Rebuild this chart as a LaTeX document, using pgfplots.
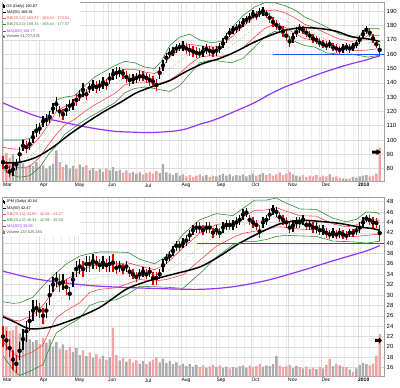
\documentclass[border=0pt]{standalone}
\usepackage{fontspec}
\setmainfont{Liberation Sans}
\usepackage{pgfplots}
\usepackage{pgfplotstable}
\pgfplotsset{compat=1.18}
\definecolor{bbred}{RGB}{250,70,70}
\definecolor{bbgreen}{RGB}{50,140,50}
\definecolor{mapurple}{RGB}{150,50,250}
\definecolor{supblue}{RGB}{30,80,255}
\definecolor{volpink}{RGB}{240,165,165}
\definecolor{volgray}{RGB}{172,172,172}
\definecolor{candred}{RGB}{225,0,0}
\definecolor{gridc}{RGB}{220,220,220}
\definecolor{gridm}{RGB}{236,236,236}
\definecolor{framec}{RGB}{160,160,160}
\definecolor{middot}{RGB}{150,130,85}

\pgfplotsset{
  basepanel/.style={scale only axis, width=382bp, xmin=-0.6, xmax=228.6, anchor=south west},
  panelT/.style={basepanel, at={(2bp,206.5bp)}, height=179.5bp},
  panelB/.style={basepanel, at={(2bp,11.5bp)}, height=179bp},
  gridaxis/.style={
    xtick={0,22,43,63,85,107,128,149,171,191,213},
    xticklabels={Mar,Apr,May,Jun,Jul,Aug,Sep,Oct,Nov,Dec,\textbf{2010}},
    minor xtick={5,10,...,225},
    yticklabel pos=right,
    xmajorgrids, ymajorgrids, xminorgrids,
    major grid style={draw=gridc, line width=0.5bp},
    minor grid style={draw=gridm, line width=0.5bp},
    major tick length=0pt, minor tick length=0pt,
    axis line style={draw=framec, line width=0.6bp},
    /pgf/number format/assume math mode=true,
    yticklabel style={font=\fontsize{6}{7}\selectfont, anchor=west, inner sep=0pt, xshift=2.5bp},
    xticklabel style={font=\fontsize{5}{6}\selectfont, anchor=north west, inner sep=0pt, yshift=-1.8bp},
  },
  volbar/.style={ybar, bar width=1.4, bar shift=0pt, draw=none},
}

% GS: x = trading day (0 = 2 Mar 2009), lo, hi, volume (millions), d = 1 down day
\pgfplotstableread[row sep=\\]{
x lo hi v d\\
0 80 89 40 1\\ 2 77 85 44 1\\ 4 74 82 36 1\\ 6 75 84 42 0\\ 8 79 87 30 0\\
10 85 95 34 0\\ 12 92 100 28 0\\ 14 91 99 22 1\\ 16 93 101 26 0\\ 18 98 106 24 0\\
20 102 111 30 0\\ 22 104 112 22 0\\ 24 109 117 25 0\\ 26 110 118 20 0\\ 28 112 120 24 0\\
30 118 126 27 0\\ 32 120 130 48 0\\ 34 116 124 30 1\\ 36 114 122 22 1\\ 38 117 125 26 0\\
40 120 128 20 0\\ 42 121 129 24 0\\ 44 124 132 19 1\\ 46 127 135 26 0\\ 48 130 140 22 0\\
50 128 136 25 1\\ 52 133 140 18 0\\ 54 134 142 21 0\\ 56 133 141 16 1\\ 58 134 142 19 0\\
60 136 144 15 0\\ 62 135 143 20 1\\ 64 139 147 17 0\\ 66 142 150 22 0\\ 68 143 151 16 0\\
70 144 151 18 0\\ 72 143 150 14 1\\ 74 140 148 17 1\\ 76 138 146 13 1\\ 78 139 146 15 0\\
80 140 147 12 0\\ 82 141 148 14 0\\ 84 141 148 11 1\\ 86 140 147 13 1\\ 88 138 146 15 1\\
90 137 145 12 1\\ 92 134 143 16 1\\ 94 143 151 13 0\\ 96 148 156 27 0\\ 98 154 161 14 0\\
100 157 164 12 0\\ 102 159 165 10 0\\ 104 161 167 13 0\\ 106 162 168 9 0\\ 108 162 169 11 0\\
110 160 168 8 1\\ 112 159 167 10 1\\ 114 158 166 7 1\\ 116 157 165 9 1\\ 118 157 164 11 1\\
120 158 166 8 0\\ 122 160 167 10 0\\ 124 159 166 7 1\\ 126 158 165 9 1\\ 128 159 166 8 0\\
130 161 168 10 0\\ 132 164 171 12 0\\ 134 168 175 9 0\\ 136 172 178 11 0\\ 138 174 180 8 0\\
140 175 181 10 0\\ 142 176 183 9 0\\ 144 179 185 11 0\\ 146 181 187 8 0\\ 148 182 189 10 0\\
150 185 191 12 0\\ 152 184 190 9 1\\ 154 186 192 11 0\\ 156 187 193 13 0\\ 158 185 191 10 1\\
160 182 189 12 1\\ 162 179 186 9 1\\ 164 177 184 11 1\\ 166 175 182 14 1\\ 168 172 180 10 1\\
170 169 177 12 1\\ 172 165 173 15 1\\ 174 168 175 11 0\\ 176 172 179 9 0\\ 178 175 181 8 0\\
180 174 180 10 1\\ 182 172 178 7 1\\ 184 170 176 9 1\\ 186 168 174 8 1\\ 188 167 173 10 1\\
190 165 171 7 1\\ 192 164 170 9 1\\ 194 163 169 8 1\\ 196 164 170 11 0\\ 198 162 168 7 1\\
200 161 167 8 1\\ 202 160 166 6 1\\ 204 161 167 5 0\\ 206 162 168 4 0\\ 208 161 167 5 1\\
210 162 168 7 0\\ 212 164 170 6 0\\ 214 167 173 8 0\\ 216 171 177 9 0\\ 218 174 180 10 0\\
220 172 178 8 1\\ 222 168 174 9 1\\ 224 164 170 12 1\\ 226 159 167 51.7 1\\
}\GSdata

\pgfplotstableread[row sep=\\]{
x l2 l1 m u1 u2\\
0 80 85 90 95 100\\ 4 76 82 88 94 100\\ 10 74 80.5 87 93.5 100\\ 16 75 81.5 88 94.5 101\\
22 81 88 95 102 109\\ 28 91 98 105 112 119\\ 32 96 104 112 120 128\\ 37 104 110.5 117 123.5 130\\
43 109 114.5 120 125.5 131\\ 49 114 120 126 132 138\\ 55 118 124.5 131 137.5 144\\ 61 122 128.5 135 141.5 148\\
67 126 132.5 139 145.5 152\\ 73 133 138.5 144 149.5 155\\ 79 136 140.5 145 149.5 154\\ 85 137 140.5 144 147.5 151\\
91 136 139.5 143 146.5 150\\ 95 135 140 145 150 155\\ 100 134 142 150 158 166\\ 106 138 146.5 155 163.5 172\\
112 146 153 160 167 174\\ 118 154 158 162 166 170\\ 125 156 159 162 165 168\\ 131 155 158.5 162 165.5 169\\
137 154 160 166 172 178\\ 144 157 164.5 172 179.5 187\\ 151 165 172 179 186 193\\ 157 172 178 184 190 196\\
163 176 181 186 191 196\\ 169 174 179 184 189 194\\ 175 169 174.5 180 185.5 191\\ 181 166 171 176 181 186\\
187 165 169.5 174 178.5 183\\ 194 161 165.5 170 174.5 179\\ 202 160 163.5 167 170.5 174\\ 209 160 163 166 169 172\\
214 159 162.5 166 169.5 173\\ 219 158 163 168 173 178\\ 224 158.9 163.7 168.5 173.3 178.1\\ 226 159.31 163.87 168.44 173.01 177.57\\
}\GSbb

\pgfplotstableread[row sep=\\]{
x y\\
0 84\\ 10 84.5\\ 20 88\\ 30 95\\ 40 104\\ 50 112\\ 60 119.5\\ 70 126\\ 80 133\\ 90 137.5\\ 100 141.5\\ 110 148\\
120 153.5\\ 130 157\\ 140 162\\ 150 168\\ 160 173\\ 170 177\\ 180 178.5\\ 190 178\\ 200 176\\ 210 172\\ 220 170.5\\ 226 168.91\\
}\GSmaf

\pgfplotstableread[row sep=\\]{
x y\\
0 126\\ 10 121\\ 22 116\\ 30 114\\ 38 112\\ 48 109.5\\ 58 107.5\\ 68 106\\ 78 105.5\\ 86 105.2\\ 94 105.5\\ 102 106.2\\
109 107.5\\ 118 111\\ 124 113\\ 130 115.5\\ 139 120\\ 148 124.5\\ 154 128\\ 160 132\\ 169 137\\ 178 141\\ 188 145.5\\
198 149.5\\ 208 153\\ 218 156\\ 222 157.5\\ 226 158.77\\
}\GSmat

% JPM
\pgfplotstableread[row sep=\\]{
x lo hi v d\\
0 20 24 155 1\\ 2 19.5 23 162 1\\ 4 18 21.5 148 1\\ 6 15.6 19.5 150 1\\ 8 15 18.5 165 1\\
10 17.5 21 140 0\\ 12 19.5 23.5 128 0\\ 14 21 25 135 0\\ 16 23 27 120 0\\ 18 25 29 112 0\\
20 26 29 118 0\\ 22 25.5 28.5 105 1\\ 24 24.5 27.5 125 1\\ 26 25.5 28.5 110 0\\ 28 28 32 120 0\\
30 30.5 33.5 98 0\\ 32 31.5 34.5 112 0\\ 34 30.5 34 90 1\\ 36 31 34 104 0\\ 38 30 33 86 1\\
40 29 31.5 96 1\\ 42 31.5 34.5 80 0\\ 44 33.5 36.5 92 0\\ 46 34 37 70 0\\ 48 33.5 36.5 85 1\\
50 34.5 37.5 66 0\\ 52 34.5 37.5 78 1\\ 54 35 38 60 0\\ 56 35 37.5 72 1\\ 58 34.5 37 58 1\\
60 35 37.5 68 0\\ 62 34.5 37 55 1\\ 64 34.5 37.5 62 0\\ 66 34.5 38 158 1\\ 68 34 36.5 70 1\\
70 34.5 36.5 52 0\\ 72 34 36 60 1\\ 74 34.5 36.5 48 0\\ 76 33.5 35.5 56 1\\ 78 33 35 45 1\\
80 32.5 34.5 52 1\\ 82 33 35 42 0\\ 84 33.5 35.5 50 0\\ 86 33 35 40 1\\ 88 33.5 35.5 48 0\\
90 32 34.5 55 1\\ 92 32 34.5 62 1\\ 94 33 35 46 0\\ 96 34.5 37 58 0\\ 98 36 38 44 0\\
100 36.5 38.5 50 0\\ 102 37.5 39.5 40 0\\ 104 38.5 40.5 46 0\\ 106 38.5 40.5 36 1\\ 108 39 41 42 0\\
110 39.5 41.5 34 0\\ 112 40.5 42.5 40 0\\ 114 41.5 43.5 32 0\\ 116 42 44 38 0\\ 118 42 44 30 1\\
120 41.5 43.5 36 1\\ 122 42 44 28 0\\ 124 42 44 33 1\\ 126 41 43 38 1\\ 128 41.5 43.5 30 0\\
130 41 43 36 1\\ 132 42 44 28 0\\ 134 42.5 44.5 32 0\\ 136 42.5 44.5 26 1\\ 138 42.5 44.5 30 0\\
140 43 45 27 0\\ 142 43.5 45.5 33 0\\ 144 44.5 46.5 36 0\\ 146 45 46.8 28 0\\ 148 43.5 45.5 35 1\\
150 43 45 30 1\\ 152 42.5 44.5 34 1\\ 154 41 43.5 40 1\\ 156 43 45 32 0\\ 158 43.5 45.5 36 0\\
160 44.5 46.5 34 0\\ 162 45.5 47.4 40 0\\ 164 45 47 66 0\\ 166 44 46 35 1\\ 168 43.5 45.5 30 1\\
170 43 45 33 1\\ 172 42 44 38 1\\ 174 42.2 44.5 28 0\\ 176 43 45 34 0\\ 178 43 45 30 1\\
180 43.5 45.5 26 0\\ 182 42.5 44.5 32 1\\ 184 42.5 44.5 25 0\\ 186 42 44 29 1\\ 188 42 44 24 0\\
190 41.5 43.5 31 1\\ 192 41.5 43.5 26 0\\ 194 41 43 38 1\\ 196 40.8 42.5 56 1\\ 198 41 43 34 0\\
200 40.8 42.5 40 1\\ 202 41 43 36 0\\ 204 40.8 42.5 32 1\\ 206 40.6 42.3 30 1\\ 208 41.2 42.8 22 0\\
210 41.2 42.8 15 1\\ 212 41.6 43.3 26 0\\ 214 42 44 38 0\\ 216 43 45 44 0\\ 218 44 45.5 40 0\\
220 43.5 45.4 36 1\\ 222 43 45 42 1\\ 224 43 44.8 68 1\\ 226 40.4 43.5 137.5 1\\
}\JPMdata

\pgfplotstableread[row sep=\\]{
x l2 l1 m u1 u2\\
0 18.3 20.9 23.5 26.1 28.7\\ 6 15.6 18.8 22 25.2 28.4\\ 10 14.5 18 21.5 25 28.5\\ 18 15.6 19.1 22.6 26.1 29.6\\
24 16.6 20.4 24.2 28 31.8\\ 28 19.9 23.2 26.5 29.8 33.1\\ 32 22.7 25.6 28.5 31.4 34.3\\ 38 24 27 30 33 36\\
46 25.5 28.5 31.5 34.5 37.5\\ 52 28 30.5 33 35.5 38\\ 58 28.7 31.1 33.5 35.9 38.3\\ 68 29.1 31.4 33.7 36 38.3\\
75 30.2 32.2 34.2 36.2 38.2\\ 82 31.7 33 34.3 35.6 36.9\\ 91 31.6 32.7 33.8 34.9 36\\ 98 31.5 33 34.5 36 37.5\\
108 31.3 33.9 36.5 39.1 41.7\\ 118 34.1 36.7 39.3 41.9 44.5\\ 128 37.3 39.4 41.5 43.6 45.7\\ 138 39.7 41.1 42.5 43.9 45.3\\
144 40.3 41.9 43.5 45.1 46.7\\ 151 40.3 42.3 44.3 46.3 48.3\\ 158 40.7 42.6 44.5 46.4 48.3\\ 164 41.3 43.15 45 46.85 48.7\\
170 41.5 43.05 44.6 46.15 47.7\\ 178 41.4 42.7 44 45.3 46.6\\ 188 41.3 42.6 43.9 45.2 46.5\\ 198 40.4 41.5 42.6 43.7 44.8\\
206 40.3 41.25 42.2 43.15 44.1\\ 212 40.2 41.3 42.4 43.5 44.6\\ 218 40 41.5 43 44.5 46\\ 224 40.3 41.7 43.1 44.5 45.9\\
226 40.34 41.65 42.96 44.27 45.58\\
}\JPMbb

\pgfplotstableread[row sep=\\]{
x y\\
0 25.8\\ 7 24.8\\ 16 23.5\\ 28 23.8\\ 38 24.8\\ 46 25.8\\ 58 27.6\\ 67 29.6\\ 75 31.3\\ 88 32.8\\ 102 34.0\\
118 35.4\\ 130 37.5\\ 142 40.0\\ 154 42.0\\ 166 43.7\\ 178 44.4\\ 190 44.2\\ 202 43.8\\ 214 43.1\\ 222 42.8\\ 226 42.47\\
}\JPMmaf

\pgfplotstableread[row sep=\\]{
x y\\
0 34.6\\ 18 33.2\\ 38 32.3\\ 58 31.7\\ 88 31.3\\ 118 31.1\\ 138 31.6\\ 158 32.8\\ 178 34.6\\ 198 36.6\\ 218 38.5\\ 226 39.55\\
}\JPMmat

\def\lgf{\fontsize{3.9}{4.5}\selectfont}

\begin{document}
\begin{tikzpicture}
\useasboundingbox (0,0) rectangle (400bp,388bp);

%================ GS panel
\begin{axis}[panelT, gridaxis, ymin=71, ymax=196.5, ytick={80,90,...,190}]
\end{axis}
\begin{axis}[panelT, ymin=0, ymax=277, hide axis]
\addplot[volbar, fill=volpink, restrict expr to domain={\thisrow{d}}{0.5:1.5}] table[x=x,y=v]{\GSdata};
\addplot[volbar, fill=volgray, restrict expr to domain={\thisrow{d}}{-0.5:0.5}] table[x=x,y=v]{\GSdata};
\end{axis}
\begin{axis}[panelT, ymin=71, ymax=196.5, hide axis]
\addplot[bbgreen, line width=0.6bp] table[x=x,y=u2]{\GSbb};
\addplot[bbgreen, line width=0.6bp] table[x=x,y=l2]{\GSbb};
\addplot[bbred, line width=0.6bp] table[x=x,y=u1]{\GSbb};
\addplot[bbred, line width=0.6bp] table[x=x,y=l1]{\GSbb};
\addplot[middot, line width=0.5bp, dotted] table[x=x,y=m]{\GSbb};
\addplot[mapurple, line width=1.2bp, smooth] table[x=x,y=y]{\GSmat};
\addplot[only marks, mark=none, restrict expr to domain={\thisrow{d}}{-0.5:0.5},
  /pgfplots/error bars/y dir=both, /pgfplots/error bars/y explicit, /pgfplots/error bars/error mark=none,
  /pgfplots/error bars/error bar style={line width=1.3bp, draw=black}]
  table[x=x, y expr=(\thisrow{lo}+\thisrow{hi})/2, y error expr=(\thisrow{hi}-\thisrow{lo})/2]{\GSdata};
\addplot[only marks, mark=none, restrict expr to domain={\thisrow{d}}{0.5:1.5},
  /pgfplots/error bars/y dir=both, /pgfplots/error bars/y explicit, /pgfplots/error bars/error mark=none,
  /pgfplots/error bars/error bar style={line width=1.4bp, draw=candred}]
  table[x=x, y expr=(\thisrow{lo}+\thisrow{hi})/2, y error expr=(\thisrow{hi}-\thisrow{lo})/2]{\GSdata};
\addplot[black, line width=1.5bp, smooth] table[x=x,y=y]{\GSmaf};
\fill[black] (axis cs:221.4,92.65) -- (axis cs:224.2,92.65) -- (axis cs:224.2,93.7) -- (axis cs:226.8,91.6)
  -- (axis cs:224.2,89.5) -- (axis cs:224.2,90.55) -- (axis cs:221.4,90.55) -- cycle;
\addplot[supblue, line width=1.3bp] coordinates {(162,160) (228.6,160)};
\end{axis}

%================ JPM panel
\begin{axis}[panelB, gridaxis, ymin=14.3, ymax=48.8, ytick={16,18,...,48}]
\end{axis}
\begin{axis}[panelB, ymin=0, ymax=580, hide axis]
\addplot[volbar, fill=volpink, restrict expr to domain={\thisrow{d}}{0.5:1.5}] table[x=x,y=v]{\JPMdata};
\addplot[volbar, fill=volgray, restrict expr to domain={\thisrow{d}}{-0.5:0.5}] table[x=x,y=v]{\JPMdata};
\end{axis}
\begin{axis}[panelB, ymin=14.3, ymax=48.8, hide axis]
\addplot[bbgreen, line width=0.6bp] table[x=x,y=u2]{\JPMbb};
\addplot[bbgreen, line width=0.6bp] table[x=x,y=l2]{\JPMbb};
\addplot[bbred, line width=0.6bp] table[x=x,y=u1]{\JPMbb};
\addplot[bbred, line width=0.6bp] table[x=x,y=l1]{\JPMbb};
\addplot[middot, line width=0.5bp, dotted] table[x=x,y=m]{\JPMbb};
\addplot[mapurple, line width=1.2bp, smooth] table[x=x,y=y]{\JPMmat};
\addplot[only marks, mark=none, restrict expr to domain={\thisrow{d}}{-0.5:0.5},
  /pgfplots/error bars/y dir=both, /pgfplots/error bars/y explicit, /pgfplots/error bars/error mark=none,
  /pgfplots/error bars/error bar style={line width=1.3bp, draw=black}]
  table[x=x, y expr=(\thisrow{lo}+\thisrow{hi})/2, y error expr=(\thisrow{hi}-\thisrow{lo})/2]{\JPMdata};
\addplot[only marks, mark=none, restrict expr to domain={\thisrow{d}}{0.5:1.5},
  /pgfplots/error bars/y dir=both, /pgfplots/error bars/y explicit, /pgfplots/error bars/error mark=none,
  /pgfplots/error bars/error bar style={line width=1.4bp, draw=candred}]
  table[x=x, y expr=(\thisrow{lo}+\thisrow{hi})/2, y error expr=(\thisrow{hi}-\thisrow{lo})/2]{\JPMdata};
\addplot[black, line width=1.5bp, smooth] table[x=x,y=y]{\JPMmaf};
\fill[black] (axis cs:223.2,21.55) -- (axis cs:225.6,21.55) -- (axis cs:225.6,21.85) -- (axis cs:227.4,21.25)
  -- (axis cs:225.6,20.65) -- (axis cs:225.6,20.95) -- (axis cs:223.2,20.95) -- cycle;
\addplot[supblue, line width=1.3bp] coordinates {(116.4,40) (228.6,40)};
\end{axis}

%================ legends
\fill[white] (2.5bp,348bp) rectangle (80bp,385.5bp);
\fill[black] (2.6bp,380.2bp) rectangle (3.4bp,383.8bp);
\fill[black] (4.0bp,379.6bp) rectangle (4.8bp,383.0bp);
\node[anchor=west, inner sep=0pt, font=\lgf] at (6.2bp,382bp) {GS (Daily) 160.87};
\draw[black, line width=0.9bp] (2.5bp,375.7bp) -- (6bp,375.7bp);
\node[anchor=west, inner sep=0pt, font=\lgf] at (7bp,375.7bp) {MA(50) 168.91};
\draw[bbred, line width=0.9bp] (2.5bp,369.3bp) -- (6bp,369.3bp);
\node[anchor=west, inner sep=0pt, font=\lgf, text=bbred] at (7bp,369.3bp) {BB(20,1.0) 163.87 - 168.44 - 173.01};
\draw[bbgreen, line width=0.9bp] (2.5bp,363.3bp) -- (6bp,363.3bp);
\node[anchor=west, inner sep=0pt, font=\lgf, text=bbgreen] at (7bp,363.3bp) {BB(20,2.0) 159.31 - 168.44 - 177.57};
\draw[mapurple, line width=0.9bp] (2.5bp,357bp) -- (6bp,357bp);
\node[anchor=west, inner sep=0pt, font=\lgf, text=mapurple] at (7bp,357bp) {MA(200) 158.77};
\fill[gray] (2.6bp,349.5bp) rectangle (3.4bp,353bp);
\fill[gray] (4.0bp,349.5bp) rectangle (4.8bp,352bp);
\node[anchor=west, inner sep=0pt, font=\lgf, text=black!70] at (6.2bp,351.3bp) {Volume 51,727,676};

\fill[white] (2.5bp,152bp) rectangle (80bp,190bp);
\fill[black] (2.6bp,184.5bp) rectangle (3.4bp,188.1bp);
\fill[black] (4.0bp,183.9bp) rectangle (4.8bp,187.3bp);
\node[anchor=west, inner sep=0pt, font=\lgf] at (6.2bp,186.3bp) {JPM (Daily) 40.54};
\draw[black, line width=0.9bp] (2.5bp,180bp) -- (6bp,180bp);
\node[anchor=west, inner sep=0pt, font=\lgf] at (7bp,180bp) {MA(50) 42.47};
\draw[bbred, line width=0.9bp] (2.5bp,173.7bp) -- (6bp,173.7bp);
\node[anchor=west, inner sep=0pt, font=\lgf, text=bbred] at (7bp,173.7bp) {BB(20,1.0) 41.65 - 42.96 - 44.27};
\draw[bbgreen, line width=0.9bp] (2.5bp,167.7bp) -- (6bp,167.7bp);
\node[anchor=west, inner sep=0pt, font=\lgf, text=bbgreen] at (7bp,167.7bp) {BB(20,2.0) 40.34 - 42.96 - 45.58};
\draw[mapurple, line width=0.9bp] (2.5bp,161.3bp) -- (6bp,161.3bp);
\node[anchor=west, inner sep=0pt, font=\lgf, text=mapurple] at (7bp,161.3bp) {MA(200) 39.55};
\fill[gray] (2.6bp,154bp) rectangle (3.4bp,157.5bp);
\fill[gray] (4.0bp,154bp) rectangle (4.8bp,156.5bp);
\node[anchor=west, inner sep=0pt, font=\lgf, text=black!70] at (6.2bp,155.7bp) {Volume 137,525,184};
\end{tikzpicture}
\end{document}
